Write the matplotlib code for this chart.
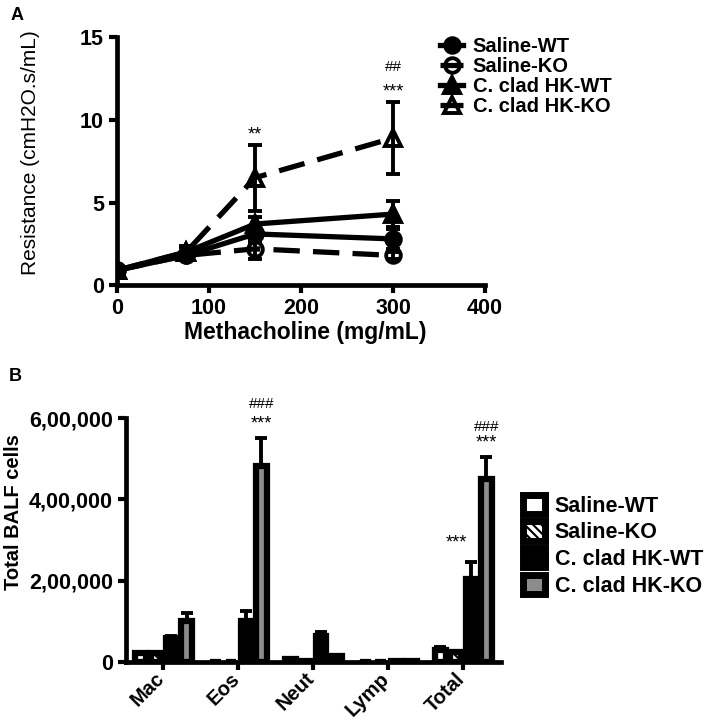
import matplotlib.pyplot as plt
import matplotlib.transforms as mtrans
import numpy as np
from matplotlib.patches import Patch

plt.rcParams['font.family'] = ['Liberation Sans', 'DejaVu Sans']
plt.rcParams['hatch.linewidth'] = 1.5

# ── Panel A data: airway resistance vs methacholine ──
dose = [0, 75, 150, 300]
saline_wt = [0.9, 1.8, 3.1, 2.8]
saline_wt_err = [0.2, 0.2, 0.5, 0.6]
saline_ko = [0.9, 1.8, 2.2, 1.8]
saline_ko_err = [0.2, 0.2, 0.6, 0.2]
hk_wt = [0.9, 2.0, 3.7, 4.3]
hk_wt_err = [0.2, 0.3, 0.4, 0.8]
hk_ko = [0.9, 2.0, 6.5, 8.9]
hk_ko_err = [0.2, 0.4, 2.0, 2.2]

# ── Panel B data: BALF cell counts ──
cell_types = ["Mac", "Eos", "Neut", "Lymp", "Total"]
b_saline_wt = [22000, 0, 8000, 0, 30000]
b_saline_wt_err = [2000, 0, 2000, 0, 8000]
b_saline_ko = [22000, 0, 2000, 0, 24000]
b_saline_ko_err = [2000, 0, 0, 0, 3000]
b_hk_wt = [58000, 100000, 65000, 2000, 205000]
b_hk_wt_err = [5000, 25000, 8000, 0, 40000]
b_hk_ko = [100000, 482000, 15000, 3000, 450000]
b_hk_ko_err = [20000, 70000, 3000, 0, 55000]
b_yticks = [0, 200000, 400000, 600000]
b_yticklabels = ["0", "2,00,000", "4,00,000", "6,00,000"]

labels = ["Saline-WT", "Saline-KO", "C. clad HK-WT", "C. clad HK-KO"]

fig = plt.figure(figsize=(7.18, 7.22), dpi=100)


def style_axes(ax, xsize=15.5):
    for s in ["top", "right"]:
        ax.spines[s].set_visible(False)
    for s in ["left", "bottom"]:
        ax.spines[s].set_linewidth(3.4)
    ax.tick_params(width=3, length=6, direction="out", labelsize=15.5)
    ax.tick_params(axis="x", labelsize=xsize)
    for t in ax.get_xticklabels() + ax.get_yticklabels():
        t.set_fontweight("bold")


# ── Panel A ──
ax = fig.add_axes([0.163, 0.605, 0.5125, 0.3435])
series = [
    (saline_wt, saline_wt_err, "-", "o", "black", 10.5),
    (saline_ko, saline_ko_err, (0, (5, 2.5)), "o", "none", 10.5),
    (hk_wt, hk_wt_err, "-", "^", "black", 11),
    (hk_ko, hk_ko_err, (0, (5, 2.5)), "^", "none", 11),
]
handles = []
for (y, e, ls, m, fc, ms), lab in zip(series, labels):
    ax.errorbar(dose, y, yerr=e, fmt="none", ecolor="black",
                elinewidth=2.8, capsize=5, capthick=2.8, zorder=2)
    ln, = ax.plot(dose, y, linestyle=ls, color="black", lw=3.8,
                  marker=m, markersize=ms, markerfacecolor=fc,
                  markeredgecolor="black", markeredgewidth=2.8,
                  label=lab, zorder=3)
    handles.append(ln)
ax.set_xlim(0, 400)
ax.set_ylim(0, 15)
ax.set_xticks([0, 100, 200, 300, 400])
ax.set_yticks([0, 5, 10, 15])
style_axes(ax)
ax.set_xlabel("Methacholine (mg/mL)", fontsize=16.5, fontweight="bold")
ax.xaxis.set_label_coords(0.511, -0.145)
ax.set_ylabel("Resistance (cmH2O.s/mL)", fontsize=15)
ax.yaxis.set_label_coords(-0.209, 0.536)
ax.text(150, 9.1, "**", ha="center", va="center", fontsize=13)
ax.text(300, 11.7, "***", ha="center", va="center", fontsize=13)
ax.text(300, 13.2, "##", ha="center", va="center", fontsize=11)
fig.legend(handles=handles, loc="upper left", bbox_to_anchor=(0.602, 0.96),
           borderaxespad=0, frameon=False, handlelength=1.15,
           handletextpad=0.45, labelspacing=0.05,
           prop={"size": 14.5, "weight": "bold"})

# ── Panel B ──
ax = fig.add_axes([0.1755, 0.083, 0.522, 0.338])
x = np.arange(len(cell_types))
step = 0.205
w = 0.14
b_series = [
    (b_saline_wt, b_saline_wt_err, "white", None),
    (b_saline_ko, b_saline_ko_err, "white", "\\\\\\\\"),
    (b_hk_wt, b_hk_wt_err, "black", None),
    (b_hk_ko, b_hk_ko_err, "#8c8c8c", None),
]
for i, (v, e, fc, h) in enumerate(b_series):
    pos = x + (i - 1.5) * step
    ax.bar(pos, v, width=w, color=fc, edgecolor="black", linewidth=4.5,
           hatch=h, zorder=3)
    ax.errorbar(pos, v, yerr=[np.zeros(len(v)), e], fmt="none",
                ecolor="black", elinewidth=2.8, capsize=4, capthick=2.8,
                zorder=2)
ax.set_xlim(-0.5, 4.5)
ax.set_ylim(0, 600000)
ax.set_yticks(b_yticks)
ax.set_yticklabels(b_yticklabels)
ax.set_xticks(x)
ax.set_xticklabels(cell_types, rotation=45, ha="right",
                   rotation_mode="anchor")
style_axes(ax, xsize=14.5)
ax.tick_params(axis="x", pad=1)
shift = mtrans.ScaledTranslation(-6 / 72, 2 / 72, fig.dpi_scale_trans)
for lab in ax.get_xticklabels():
    lab.set_transform(lab.get_transform() + shift)
ax.set_ylabel("Total BALF cells", fontsize=14.5, fontweight="bold")
ax.yaxis.set_label_coords(-0.275, 0.615)
ax.text(1 + 1.5 * step, 634000, "###", ha="center", va="center",
        fontsize=11, clip_on=False)
ax.text(1 + 1.5 * step, 585000, "***", ha="center", va="center",
        fontsize=13, clip_on=False)
ax.text(4 + 1.5 * step, 578000, "###", ha="center", va="center",
        fontsize=11, clip_on=False)
ax.text(4 + 1.5 * step, 538000, "***", ha="center", va="center",
        fontsize=13, clip_on=False)
ax.text(4 + 0.5 * step - 0.2, 293000, "***", ha="center", va="center",
        fontsize=13, clip_on=False)

bh = [Patch(facecolor=fc, edgecolor="black", linewidth=5, hatch=h)
      for (_, _, fc, h) in b_series]
fig.legend(handles=bh, labels=labels, loc="upper left",
           bbox_to_anchor=(0.717, 0.327), borderaxespad=0, frameon=False,
           handlelength=1.0, handleheight=1.0, handletextpad=0.45,
           labelspacing=0.22, prop={"size": 15.5, "weight": "bold"})

fig.text(0.014, 0.99, "A", fontsize=13, fontweight="bold", va="top")
fig.text(0.012, 0.49, "B", fontsize=13, fontweight="bold", va="top")

fig.savefig("out.png", dpi=100)
